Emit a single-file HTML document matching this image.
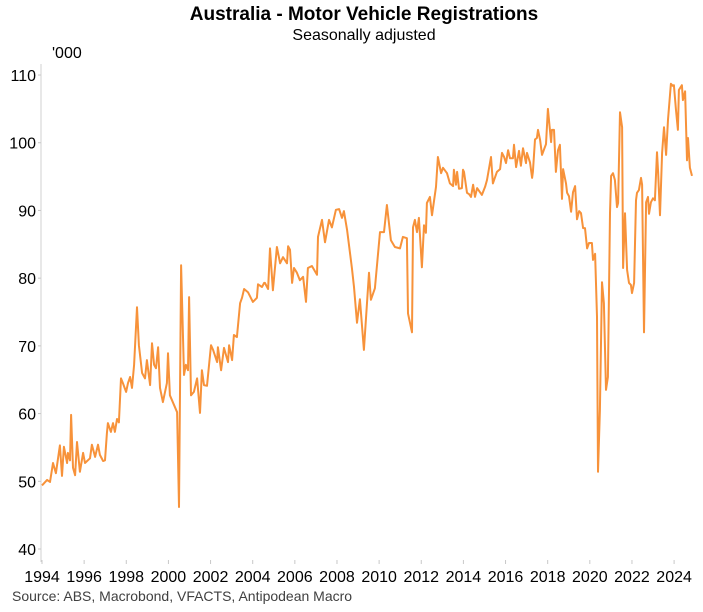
<!DOCTYPE html>
<html><head><meta charset="utf-8"><style>
html,body{margin:0;padding:0;background:#fff;}
svg{display:block;font-family:"Liberation Sans",Arial,sans-serif;}
</style></head><body>
<svg id="chart" width="703" height="612" viewBox="0 0 703 612" xmlns="http://www.w3.org/2000/svg">
<text x="364" y="20" text-anchor="middle" font-size="19" font-weight="bold" fill="#000">Australia - Motor Vehicle Registrations</text>
<text x="364" y="40" text-anchor="middle" font-size="16" fill="#000">Seasonally adjusted</text>
<text x="52" y="58" font-size="16" fill="#000">'000</text>
<line x1="41" y1="64" x2="41" y2="562" stroke="#d0d0d0" stroke-width="1"/>
<g id="yaxis"></g>
<g id="xaxis"></g>
<g id="series"></g>
<text x="12" y="601" font-size="14" fill="#404040">Source: ABS, Macrobond, VFACTS, Antipodean Macro</text>
</svg>
<script>
const yTicks = [40, 50, 60, 70, 80, 90, 100, 110];
const xTicks = [1994, 1996, 1998, 2000, 2002, 2004, 2006, 2008, 2010, 2012, 2014, 2016, 2018, 2020, 2022, 2024];
const dates = [1994.00,1994.24,1994.38,1994.52,1994.66,1994.85,1994.95,1995.04,1995.19,1995.23,1995.33,1995.38,1995.47,1995.57,1995.66,1995.80,1995.95,1996.04,1996.28,1996.37,1996.52,1996.66,1996.75,1996.90,1996.99,1997.08,1997.13,1997.27,1997.37,1997.46,1997.56,1997.65,1997.75,1997.84,1997.99,1998.08,1998.18,1998.27,1998.37,1998.51,1998.60,1998.75,1998.89,1998.98,1999.13,1999.22,1999.32,1999.41,1999.51,1999.60,1999.74,1999.93,1999.98,2000.07,2000.41,2000.50,2000.60,2000.74,2000.83,2000.93,2000.98,2001.07,2001.21,2001.36,2001.50,2001.59,2001.69,2001.83,2002.02,2002.12,2002.31,2002.35,2002.50,2002.64,2002.83,2002.88,2003.02,2003.11,2003.25,2003.40,2003.49,2003.59,2003.78,2004.01,2004.20,2004.25,2004.44,2004.54,2004.58,2004.73,2004.82,2004.96,2005.15,2005.30,2005.44,2005.63,2005.68,2005.77,2005.87,2005.96,2006.10,2006.24,2006.39,2006.53,2006.62,2006.81,2007.05,2007.10,2007.29,2007.43,2007.62,2007.76,2007.95,2008.10,2008.24,2008.33,2008.48,2008.71,2008.81,2008.95,2009.09,2009.28,2009.52,2009.61,2009.80,2010.04,2010.23,2010.37,2010.56,2010.75,2010.99,2011.13,2011.32,2011.37,2011.56,2011.61,2011.70,2011.80,2011.89,2012.03,2012.13,2012.22,2012.27,2012.41,2012.51,2012.70,2012.79,2012.94,2013.03,2013.22,2013.36,2013.51,2013.55,2013.65,2013.70,2013.79,2013.93,2013.98,2014.03,2014.17,2014.27,2014.36,2014.46,2014.55,2014.65,2014.88,2015.03,2015.12,2015.31,2015.40,2015.59,2015.74,2015.83,2015.93,2016.02,2016.12,2016.21,2016.35,2016.40,2016.50,2016.64,2016.73,2016.83,2016.97,2017.02,2017.16,2017.26,2017.30,2017.40,2017.49,2017.54,2017.64,2017.73,2017.92,2018.01,2018.16,2018.20,2018.30,2018.39,2018.49,2018.58,2018.68,2018.73,2018.87,2018.92,2019.01,2019.11,2019.20,2019.30,2019.39,2019.49,2019.58,2019.68,2019.77,2019.87,2019.96,2020.10,2020.15,2020.25,2020.34,2020.39,2020.48,2020.58,2020.67,2020.77,2020.86,2020.96,2021.01,2021.10,2021.19,2021.29,2021.34,2021.43,2021.53,2021.58,2021.67,2021.77,2021.86,2021.95,2022.00,2022.10,2022.19,2022.24,2022.33,2022.43,2022.48,2022.57,2022.67,2022.76,2022.81,2022.90,2023.00,2023.09,2023.19,2023.24,2023.33,2023.43,2023.52,2023.62,2023.71,2023.85,2023.95,2023.99,2024.09,2024.18,2024.23,2024.37,2024.42,2024.52,2024.61,2024.66,2024.75,2024.85];
const registrations = [49.4,50.2,49.9,52.7,51.2,55.3,50.8,55.1,52.7,54.2,53.1,59.8,52.0,50.9,55.8,51.4,54.2,52.7,53.4,55.4,53.6,55.4,53.9,53.0,53.1,57.1,58.6,57.3,58.6,57.3,59.2,58.7,65.2,64.5,63.2,64.5,65.4,63.8,67.2,75.7,70.1,66.0,65.2,67.9,64.2,70.4,67.2,66.7,69.8,63.8,61.7,64.5,68.9,62.7,60.2,46.2,81.9,65.7,67.2,66.4,77.2,62.7,63.2,65.2,60.1,66.4,64.2,64.1,70.1,69.4,67.6,69.8,66.4,69.7,67.6,70.1,67.9,71.6,71.3,76.3,77.1,78.4,77.9,76.5,77.1,79.1,78.7,79.3,79.3,78.4,84.4,78.2,84.6,82.2,83.1,82.2,84.7,84.2,79.3,81.5,80.8,79.7,80.2,76.5,81.5,81.8,80.5,86.1,88.6,85.3,88.6,87.5,90.1,90.2,88.9,89.9,87.1,81.5,78.7,73.4,76.9,69.4,80.8,76.8,78.5,86.8,86.8,90.8,85.6,84.6,84.4,86.1,85.9,74.8,72.0,87.5,88.6,86.8,88.9,81.6,87.8,86.7,91.1,92.0,89.3,93.5,97.9,95.5,96.3,95.5,94.0,93.6,96.0,93.8,95.7,93.2,93.3,96.0,95.7,92.6,92.4,92.0,93.8,92.0,93.3,92.3,93.5,94.5,97.9,94.0,95.7,96.1,98.5,97.9,97.0,98.9,97.7,97.7,99.7,96.4,98.8,96.6,99.2,97.0,98.5,97.1,94.8,95.7,100.5,100.7,101.9,100.4,98.2,99.8,105.0,100.1,101.9,101.9,95.7,98.9,99.7,91.7,96.1,94.0,92.6,92.1,89.8,92.7,93.6,88.7,89.9,89.6,87.4,87.4,84.4,85.2,85.2,82.7,83.6,74.3,51.4,60.5,79.4,76.3,63.5,65.4,89.6,95.1,95.5,94.5,90.5,91.1,104.5,102.3,81.5,89.6,81.2,79.3,79.0,77.8,79.3,91.5,92.6,93.0,94.8,93.8,72.0,91.2,92.0,89.5,91.2,91.8,91.5,98.6,95.7,89.3,98.5,102.3,98.2,103.4,108.7,108.4,108.5,104.8,101.9,107.8,108.5,106.3,107.6,97.4,100.7,96.3,95.1];

const NS = 'http://www.w3.org/2000/svg';
function xScale(yr){ return 42 + (yr - 1994) * 21.07; }
function yScale(v){ return 549 - (v - 40) * 6.771; }

const yG = document.getElementById('yaxis');
yTicks.forEach(t => {
  const y = yScale(t);
  const tk = document.createElementNS(NS, 'line');
  
  
  tk.setAttribute('x1', 38); tk.setAttribute('x2', 41);
  tk.setAttribute('y1', y); tk.setAttribute('y2', y);
  tk.setAttribute('stroke', '#c8c8c8');
  yG.appendChild(tk);
  const lb = document.createElementNS(NS, 'text');
  
  
  lb.setAttribute('x', 36); lb.setAttribute('y', y + 6);
  lb.setAttribute('text-anchor', 'end');
  lb.setAttribute('font-size', '16');
  lb.textContent = t;
  yG.appendChild(lb);
});

const xG = document.getElementById('xaxis');
xTicks.forEach(t => {
  const x = xScale(t);
  const tk = document.createElementNS(NS, 'line');
  
  
  tk.setAttribute('x1', x); tk.setAttribute('x2', x);
  tk.setAttribute('y1', 560); tk.setAttribute('y2', 564);
  tk.setAttribute('stroke', '#c8c8c8');
  xG.appendChild(tk);
  const lb = document.createElementNS(NS, 'text');
  
  
  lb.setAttribute('x', x); lb.setAttribute('y', 582);
  lb.setAttribute('text-anchor', 'middle');
  lb.setAttribute('font-size', '16');
  lb.textContent = t;
  xG.appendChild(lb);
});

const sG = document.getElementById('series');
const pts = dates.map((d, i) => xScale(d).toFixed(1) + ',' + yScale(registrations[i]).toFixed(1)).join(' ');
const line = document.createElementNS(NS, 'polyline');


line.setAttribute('points', pts);
line.setAttribute('fill', 'none');
line.setAttribute('stroke', '#f7923a');
line.setAttribute('stroke-width', '2');
line.setAttribute('stroke-linejoin', 'round');
sG.appendChild(line);
</script>
</body></html>
